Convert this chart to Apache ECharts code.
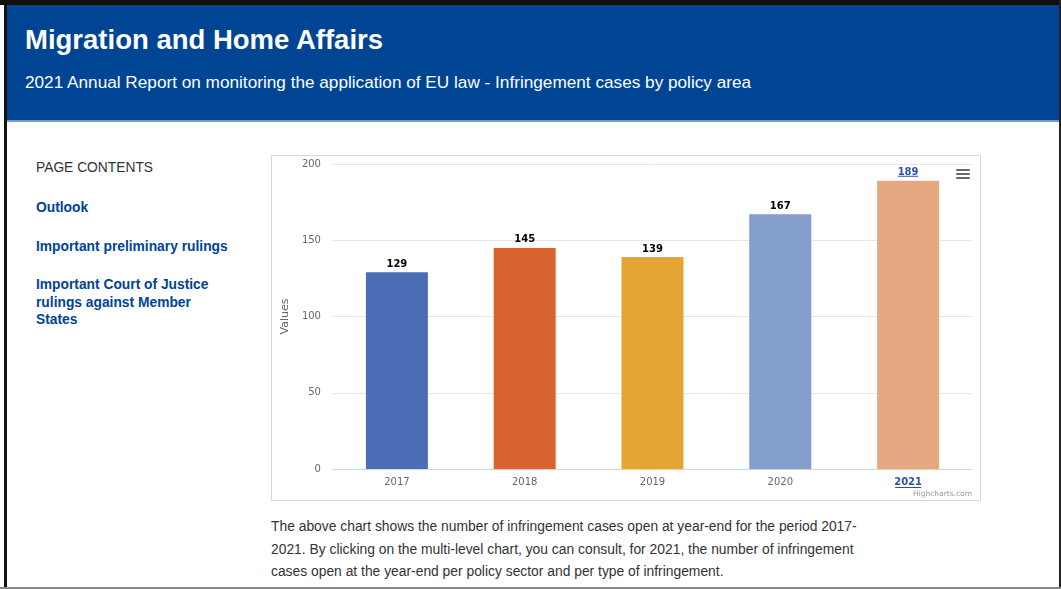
<!DOCTYPE html>
<html>
<head>
<meta charset="utf-8">
<title>Migration and Home Affairs</title>
<script src="https://cdn.jsdelivr.net/npm/echarts@6/dist/echarts.min.js"></script>
<style>
  html, body { margin: 0; padding: 0; background: #fff; }
  body { width: 1061px; height: 589px; position: relative; overflow: hidden;
         font-family: "Liberation Sans", Arial, Helvetica, sans-serif; }
  .frame-top { position: absolute; left: 0; top: 0; width: 1061px; height: 5px; background: #111; }
  .frame-left { position: absolute; left: 4px; top: 0; width: 3px; height: 589px; background: #111; }
  .frame-right { position: absolute; left: 1059px; top: 0; width: 2px; height: 589px; background: #222; }
  .frame-bottom { position: absolute; left: 0; top: 587px; width: 1061px; height: 2px; background: #888; }
  .header { position: absolute; left: 7px; top: 5px; width: 1052px; height: 115px; background: #004494;
            border-bottom: 2px solid #6e9bd0; }
  .header h1 { position: absolute; left: 18px; top: 19px; margin: 0; color: #fff; font-size: 27.5px;
               font-weight: bold; line-height: 32px; white-space: nowrap; }
  .header p { position: absolute; left: 18px; top: 67px; margin: 0; color: #fff; font-size: 17.2px;
              line-height: 20px; white-space: nowrap; }
  .toc { position: absolute; left: 36px; top: 0; width: 200px; font-size: 13.8px; }
  .toc .label { position: absolute; top: 159px; color: #333; line-height: 18px; white-space: nowrap; }
  .toc a { position: absolute; left: 0; width: 200px; color: #004494; font-weight: bold; line-height: 17.5px;
           text-decoration: none; }
  .chart-box { position: absolute; left: 271px; top: 155px; width: 708px; height: 344px; border: 1px solid #d8d8d8; }
  #chart { width: 708px; height: 344px; }
  .note { position: absolute; left: 271px; top: 515px; width: 600px; margin: 0; color: #333;
          font-size: 13.85px; line-height: 22.5px; }
</style>
</head>
<body>
<div class="frame-top"></div>
<div class="frame-left"></div>
<div class="frame-right"></div>
<div class="frame-bottom"></div>

<div class="header">
  <h1>Migration and Home Affairs</h1>
  <p>2021 Annual Report on monitoring the application of EU law - Infringement cases by policy area</p>
</div>

<div class="toc">
  <div class="label">PAGE CONTENTS</div>
  <a style="top:199px">Outlook</a>
  <a style="top:238px">Important preliminary rulings</a>
  <a style="top:276px">Important Court of Justice rulings against Member States</a>
</div>

<div class="chart-box"><div id="chart"></div></div>

<p class="note">The above chart shows the number of infringement cases open at year-end for the period 2017-
2021. By clicking on the multi-level chart, you can consult, for 2021, the number of infringement
cases open at the year-end per policy sector and per type of infringement.</p>

<script>
// Infringement cases open at year-end
const years = ['2017', '2018', '2019', '2020', '2021'];
const openCases = [129, 145, 139, 167, 189];
const barColors = ['#4a6db5', '#d8632e', '#e5a535', '#839dcc', '#e5a982'];
const yTicks = [0, 50, 100, 150, 200];

const drillYear = '2021';          // the year that links to the multi-level chart
const linkColor = '#2b55a3';
const chartFont = '"DejaVu Sans", Verdana, sans-serif';

const chart = echarts.init(document.getElementById('chart'), null, { renderer: 'canvas' });

const option = {
  animation: false,
  grid: { left: 60, right: 8, top: 8, bottom: 31, containLabel: false },
  xAxis: {
    type: 'category',
    data: years,
    axisLine: { lineStyle: { color: '#ccd6eb', width: 1 } },
    axisTick: { show: false },
    axisLabel: {
      margin: 8,
      fontFamily: chartFont,
      fontSize: 10,
      color: '#666',
      formatter: v => v === drillYear ? '{link|' + v + '}' : v,
      rich: { link: { color: linkColor, fontWeight: 'bold', fontSize: 10, fontFamily: chartFont } }
    }
  },
  yAxis: {
    type: 'value',
    min: yTicks[0],
    max: yTicks[yTicks.length - 1],
    interval: yTicks[1] - yTicks[0],
    name: 'Values',
    nameLocation: 'middle',
    nameGap: 39,
    nameTextStyle: { fontFamily: chartFont, fontSize: 11, color: '#666' },
    axisLine: { show: false },
    axisTick: { show: false },
    axisLabel: { margin: 12, fontFamily: chartFont, fontSize: 10, color: '#666' },
    splitLine: { lineStyle: { color: '#e6e6e6', width: 1 } }
  },
  series: [{
    type: 'bar',
    data: openCases.map((v, i) => ({
      value: v,
      itemStyle: { color: barColors[i] },
      label: years[i] === drillYear ? { color: linkColor } : undefined
    })),
    barWidth: '48.5%',
    label: {
      show: true,
      position: 'top',
      distance: 3,
      fontFamily: chartFont,
      fontSize: 10,
      fontWeight: 'bold',
      color: '#000'
    }
  }]
};
chart.setOption(option);

// Decorations: underlines for the drill-down year, export menu icon, credits
const drillIdx = years.indexOf(drillYear);
const cx = chart.convertToPixel({ xAxisIndex: 0 }, drillYear);
const baseY = chart.convertToPixel({ yAxisIndex: 0 }, 0);
const topY = chart.convertToPixel({ yAxisIndex: 0 }, openCases[drillIdx]);
const W = chart.getWidth();

const graphics = [
  // underline below the x-axis label
  { type: 'line', shape: { x1: cx - 13, y1: baseY + 18.5, x2: cx + 13, y2: baseY + 18.5 },
    style: { stroke: linkColor, lineWidth: 1 } },
  // underline below the value label
  { type: 'line', shape: { x1: cx - 10, y1: topY - 4.5, x2: cx + 10, y2: topY - 4.5 },
    style: { stroke: linkColor, lineWidth: 1 } },
  // credits
  { type: 'text', right: 8, bottom: 2,
    style: { text: 'Highcharts.com', fontFamily: chartFont, fontSize: 7.5, fill: '#999' } }
];
// export menu icon (three bars)
[0, 4, 8].forEach(dy => {
  graphics.push({ type: 'rect', shape: { x: W - 24, y: 13 + dy, width: 14, height: 2, r: 1 },
    style: { fill: '#666' } });
});
chart.setOption({ graphic: graphics });
</script>
</body>
</html>
